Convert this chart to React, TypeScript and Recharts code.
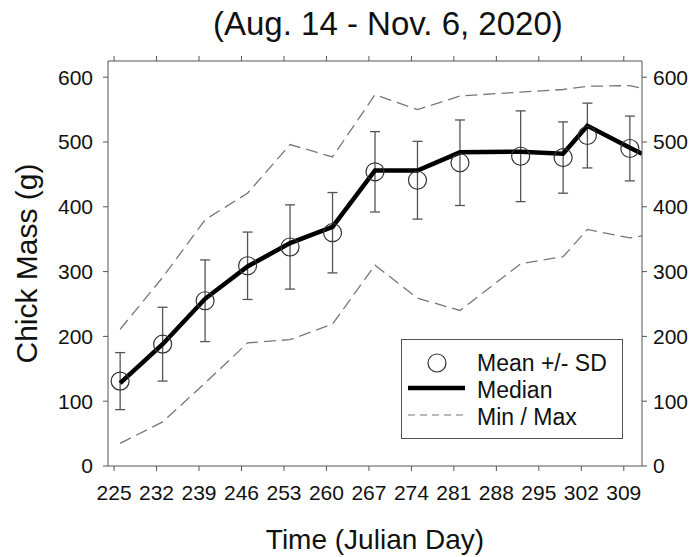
import { ComposedChart, ErrorBar, Legend, Line, XAxis, YAxis } from "recharts";

const FONT = '"Liberation Sans", Arial, sans-serif';

// julian day of each sampling (last entry is where the lines leave the frame)
const days = [226, 233, 240, 247, 254, 261, 268, 275, 282, 292, 299, 303, 310, 312];
const meanMass = [131, 188, 255, 309, 338, 360, 454, 441, 468, 478, 476, 510, 490, null];
const sdMass = [44, 57, 63, 52, 65, 62, 62, 60, 66, 70, 55, 50, 50, null];
const medianMass = [128, 188, 258, 308, 344, 369, 456, 456, 484, 485, 482, 525, 491, 482];
const minMass = [35, 68, 128, 190, 195, 219, 310, 259, 240, 312, 323, 365, 352, 355];
const maxMass = [211, 291, 380, 421, 496, 477, 573, 550, 571, 577, 581, 586, 587, 583];

const xTicks = [225, 232, 239, 246, 253, 260, 267, 274, 281, 288, 295, 302, 309];
const yTicks = [0, 100, 200, 300, 400, 500, 600];

const data = days.map((day, i) => ({
  day,
  mean: meanMass[i],
  sd: sdMass[i],
  median: medianMass[i],
  min: minMass[i],
  max: maxMass[i],
}));

const axisColor = "#555";
const tickStyle = { fontSize: 21, fill: "#111", fontFamily: FONT };

function LegendBox() {
  return (
    <div
      style={{
        width: 222,
        height: 100,
        boxSizing: "border-box",
        border: "1.5px solid #555",
        background: "#fff",
      }}
    >
      <svg width={219} height={97} style={{ display: "block" }}>
        <circle cx={35} cy={23} r={9} fill="none" stroke="#333" strokeWidth={1.2} />
        <line x1={6} x2={63} y1={48} y2={48} stroke="#000" strokeWidth={4.5} />
        <line x1={6} x2={63} y1={75} y2={75} stroke="#777" strokeWidth={1.2} strokeDasharray="7 5" />
        <g fontFamily={FONT} fontSize={23} fill="#111">
          <text x={75} y={31}>Mean +/- SD</text>
          <text x={75} y={58}>Median</text>
          <text x={75} y={85}>Min / Max</text>
        </g>
      </svg>
    </div>
  );
}

export default function App() {
  return (
    <div style={{ position: "absolute", left: 0, top: 0, width: 696, height: 557, background: "#fff" }}>
      <div
        style={{
          position: "absolute",
          left: 213,
          top: 5,
          fontFamily: FONT,
          fontSize: 33,
          lineHeight: "normal",
          color: "#111",
          whiteSpace: "nowrap",
          zIndex: 2,
        }}
      >
        (Aug. 14 - Nov. 6, 2020)
      </div>
      <ComposedChart
        width={696}
        height={557}
        data={data}
        margin={{ top: 60, right: 0, bottom: 1, left: 8 }}
      >
        <XAxis
          dataKey="day"
          type="number"
          domain={[224, 312]}
          ticks={xTicks}
          allowDataOverflow
          height={90}
          tickSize={5}
          tickMargin={14}
          tick={tickStyle}
          stroke={axisColor}
          label={{
            value: "Time (Julian Day)",
            position: "insideBottom",
            offset: 7,
            style: { fontSize: 28, fill: "#111", fontFamily: FONT },
          }}
        />
        <XAxis
          xAxisId="top"
          orientation="top"
          dataKey="day"
          type="number"
          domain={[224, 312]}
          ticks={xTicks}
          allowDataOverflow
          height={1}
          tickSize={5}
          tickFormatter={() => ""}
          stroke={axisColor}
        />
        <YAxis
          type="number"
          domain={[0, 625]}
          ticks={yTicks}
          width={100}
          tickSize={5}
          tickMargin={10}
          tick={tickStyle}
          stroke={axisColor}
          label={{
            value: "Chick Mass (g)",
            angle: -90,
            position: "insideLeft",
            offset: 18,
            style: { fontSize: 30, fill: "#111", fontFamily: FONT, textAnchor: "middle" },
          }}
        />
        <YAxis
          yAxisId="right"
          orientation="right"
          type="number"
          domain={[0, 625]}
          ticks={yTicks}
          width={54}
          tickSize={5}
          tickMargin={6}
          tick={tickStyle}
          stroke={axisColor}
        />
        <Legend
          layout="horizontal"
          verticalAlign="middle"
          align="center"
          content={() => <LegendBox />}
          wrapperStyle={{ left: 401, top: 339, width: 222, height: 100 }}
        />
        <Line
          dataKey="max"
          yAxisId="right"
          stroke="#777"
          strokeWidth={1.3}
          strokeDasharray="12 6"
          dot={false}
          isAnimationActive={false}
        />
        <Line
          dataKey="min"
          xAxisId="top"
          stroke="#777"
          strokeWidth={1.3}
          strokeDasharray="12 6"
          dot={false}
          isAnimationActive={false}
        />
        <Line
          dataKey="mean"
          stroke="none"
          dot={{ r: 9, fill: "none", stroke: "#333", strokeWidth: 1.2 }}
          isAnimationActive={false}
        >
          <ErrorBar dataKey="sd" direction="y" width={5} stroke="#555" strokeWidth={1.3} />
        </Line>
        <Line
          dataKey="median"
          stroke="#000"
          strokeWidth={4.5}
          dot={false}
          isAnimationActive={false}
        />
      </ComposedChart>
    </div>
  );
}
